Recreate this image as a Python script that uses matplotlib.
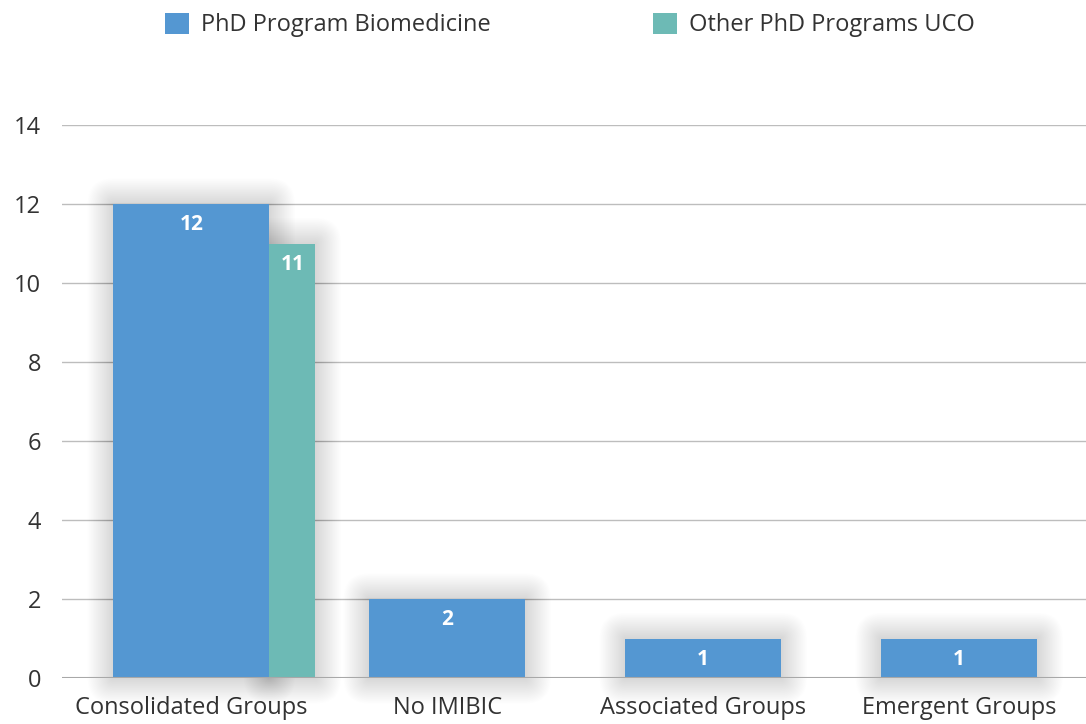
import matplotlib.pyplot as plt
from matplotlib.patches import FancyBboxPatch, Patch
from matplotlib.transforms import IdentityTransform
import numpy as np

plt.rcParams['font.family'] = ['Open Sans', 'DejaVu Sans']

categories = ['Consolidated Groups', 'No IMIBIC', 'Associated Groups', 'Emergent Groups']
biomedicine = [12, 2, 1, 1]
other_uco = [11, 0, 0, 0]
series_names = ['PhD Program Biomedicine', 'Other PhD Programs UCO']

blue = '#5497d2'
teal = '#6dbab5'
text_col = '#333333'

W, H = 1086, 724
fig = plt.figure(figsize=(W / 100, H / 100), dpi=100)
ax = fig.add_axes([62 / W, 1 - 678 / H, 1 - 62 / W, (678 - 125) / H])

x = np.arange(len(categories))
bw = 0.61
tw = 0.18
ax.set_xlim(-0.5, len(categories) - 0.5)
ax.set_ylim(0, 14)


def shadow(x0, w, h):
    # soft drop shadow: many faint boxes, each a bit bigger, in pixel space
    (px0, py0), (px1, py1) = ax.transData.transform([(x0, 0), (x0 + w, h)])
    for i in range(40):
        pad = 0.5 + i * 0.65
        r = FancyBboxPatch((px0 - pad, py0 - pad), (px1 - px0) + 2 * pad, (py1 - py0) + 2 * pad,
                           boxstyle='round,pad=0,rounding_size=%f' % pad,
                           facecolor='black', edgecolor='none', alpha=0.0045,
                           transform=IdentityTransform(), zorder=1.5, clip_on=False)
        ax.add_artist(r)


for i, v in enumerate(biomedicine):
    x0 = x[i] - bw / 2 + 0.005
    shadow(x0, bw, v)
    ax.bar(x0, v, width=bw, align='edge', color=blue, zorder=3)
    ax.annotate(str(v), (x[i] + 0.005, v), xytext=(0, -15), textcoords='offset points',
                ha='center', va='center', color='white', fontsize=15, fontweight='bold', zorder=5)

for i, v in enumerate(other_uco):
    if v <= 0:
        continue
    x0 = x[i] + bw / 2 + 0.005
    shadow(x0, tw, v)
    ax.bar(x0, v, width=tw, align='edge', color=teal, zorder=3)
    ax.annotate(str(v), (x0 + tw / 2, v), xytext=(0, -15), textcoords='offset points',
                ha='center', va='center', color='white', fontsize=15, fontweight='bold', zorder=5)

ax.set_xlim(-0.5, len(categories) - 0.5)
ax.set_ylim(0, 14)
ax.set_yticks(range(0, 15, 2))
ax.yaxis.grid(True, color='#bdbdbd', linewidth=1.0, zorder=1)
ax.set_axisbelow(True)
for s in ['top', 'right', 'left', 'bottom']:
    ax.spines[s].set_visible(False)
ax.axhline(0, color='#a8a8a8', linewidth=1.5, zorder=4)
ax.tick_params(axis='both', length=0, labelsize=17, colors=text_col)
ax.tick_params(axis='y', pad=15)
ax.tick_params(axis='x', pad=13)
ax.set_xticks(x + 0.005)
ax.set_xticklabels(categories)

handles = [Patch(facecolor=blue, edgecolor='none'), Patch(facecolor=teal, edgecolor='none')]
fig.legend(handles, series_names, loc='upper center', bbox_to_anchor=(570 / W, 1.012), ncol=2,
           frameon=False, fontsize=17, handlelength=1.0, handleheight=1.0, handletextpad=0.5,
           columnspacing=6.9, labelcolor=text_col)

fig.savefig('out.png', dpi=100)
